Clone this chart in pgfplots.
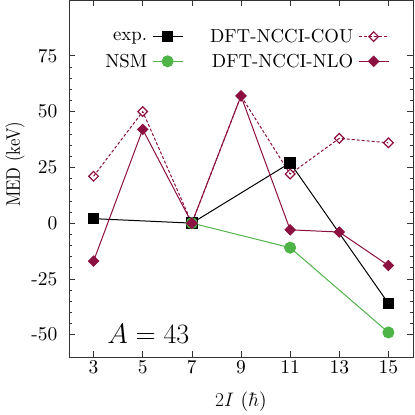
\RequirePackage{fix-cm}
\documentclass[border=0pt]{standalone}
\usepackage{fontspec}
\setmainfont{lmroman10-regular.otf}[ItalicFont=lmroman10-italic.otf, BoldFont=lmroman10-bold.otf]
\usepackage{graphicx}
\usepackage{pgfplots}
\pgfplotsset{compat=1.18}
\definecolor{maroon}{RGB}{140,16,64}
\definecolor{nsmgreen}{RGB}{78,180,72}
\begin{document}
\begin{tikzpicture}[font=\fontsize{19.5}{23}\selectfont]
\path[use as bounding box] (-69pt,-58pt) rectangle (346pt,357pt);
\begin{axis}[
  at={(0pt,0pt)}, anchor=south west,
  scale only axis, width=344pt, height=357pt,
  xmin=2, xmax=16, ymin=-60, ymax=100,
  xtick={3,5,7,9,11,13,15},
  ytick={-50,-25,0,25,50,75},
  yticklabels={-50,-25,0,25,50,75},
  /pgf/number format/assume math mode=true,
  minor y tick num=4,
  tick align=inside,
  major tick length=6pt, minor tick length=3pt,
  every tick/.style={black!80, line width=0.6pt},
  axis line style={black!80, line width=0.9pt},
  tick label style={font=\fontsize{19.5}{23}\selectfont},
  yticklabel style={xshift=-8pt},
  xlabel={$2I$ ($\hbar$)}, ylabel={\scalebox{0.86}[1]{MED (keV)}},
  label style={font=\fontsize{19.5}{23}\selectfont},
  xlabel style={at={(axis description cs:0.5,0)}, anchor=center, yshift=-45pt},
  ylabel style={at={(axis description cs:-0.157,0.54)}, anchor=center},
  legend columns=2, transpose legend,
  legend plot pos=right, legend cell align=right,
  legend style={draw=none, fill=none, at={(0.94,0.93)}, anchor=north east,
    font=\fontsize{18.8}{22}\selectfont,
    /tikz/row sep=6pt,
    /tikz/every odd column/.append style={column sep=3pt},
    /tikz/every even column/.append style={column sep=25pt}},
  legend image code/.code={\draw[mark repeat=2,mark phase=2,#1] plot coordinates {(0pt,0pt)(15pt,0pt)(30pt,0pt)};},
]
\addplot[black, line width=1pt, mark=square*, mark size=5.3pt, mark options={solid}]
  coordinates {(3,2) (7,0) (11,27) (15,-36)};
\addlegendentry{exp.}
\addplot[nsmgreen, line width=1pt, mark=*, mark size=5.5pt, mark options={solid}]
  coordinates {(7,0) (11,-11) (15,-49)};
\addlegendentry{NSM}
\addplot[maroon, line width=1pt, dash pattern=on 3pt off 2pt, mark=square, mark size=3.4pt, mark options={solid, rotate=45, line width=1.2pt}]
  coordinates {(3,21) (5,50) (7,0) (9,57) (11,22) (13,38) (15,36)};
\addlegendentry{DFT-NCCI-COU}
\addplot[maroon, line width=1pt, mark=square*, mark size=3.6pt, mark options={solid, rotate=45}]
  coordinates {(3,-17) (5,42) (7,0) (9,57) (11,-3) (13,-4) (15,-19)};
\addlegendentry{DFT-NCCI-NLO}
\node[font=\fontsize{28}{33}\selectfont, anchor=base west, inner sep=0pt, yshift=-23pt] at (axis cs:3.55,-43.7) {$A = 43$};
\end{axis}
\end{tikzpicture}
\end{document}
